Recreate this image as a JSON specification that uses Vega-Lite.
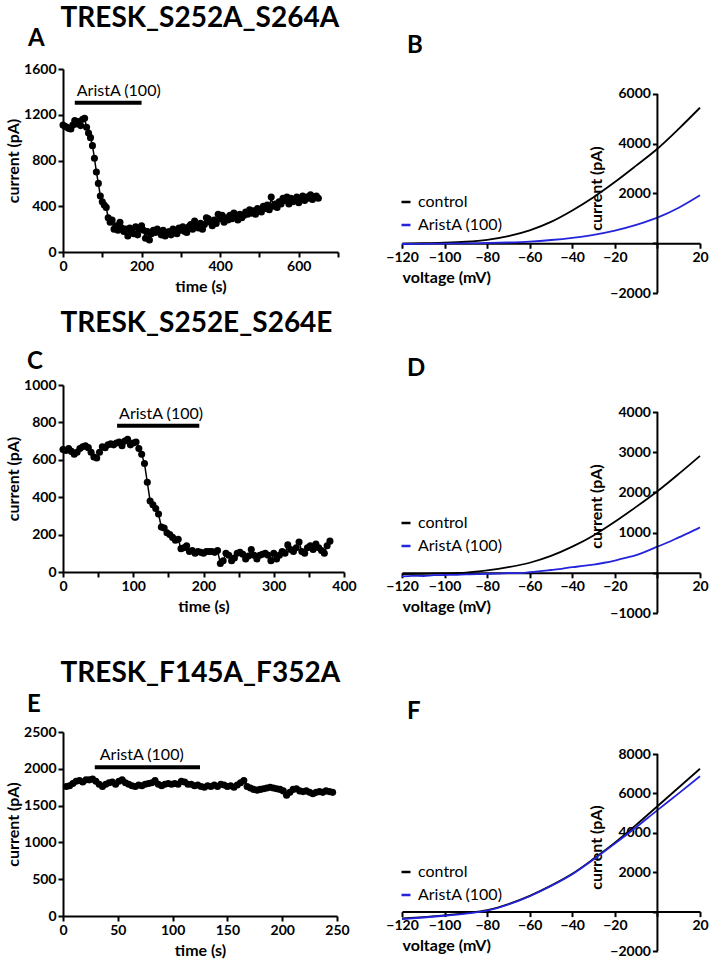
{
  "$schema": "https://vega.github.io/schema/vega-lite/v6.json",
  "background": "white",
  "padding": 5,
  "config": {
    "font": "Lato",
    "view": {"stroke": null},
    "axis": {
      "grid": false,
      "domainColor": "black",
      "domainWidth": 2,
      "tickColor": "black",
      "tickWidth": 2,
      "tickSize": 5,
      "labelFont": "Lato",
      "labelFontSize": 14,
      "labelFontWeight": "bold",
      "labelColor": "black",
      "labelFlush": false,
      "labelOverlap": false,
      "labelPadding": 2,
      "titleFont": "Lato",
      "titleFontSize": 16,
      "titleFontWeight": "bold",
      "titleColor": "black",
      "titlePadding": 5
    },
    "title": {"font": "Lato", "fontWeight": "bold", "color": "black"},
    "legend": {"labelFont": "Lato", "labelFontSize": 16, "labelColor": "black"}
  },
  "spacing": 10,
  "resolve": {"scale": {"color": "independent"}, "legend": {"color": "independent"}},
  "vconcat": [
    {
      "title": {"text": "TRESK_S252A_S264A", "anchor": "start", "dx": 55, "fontSize": 28, "offset": -6},
      "spacing": 46,
      "resolve": {"scale": {"color": "independent"}, "legend": {"color": "independent"}},
      "hconcat": [
        {
          "title": {"text": "A", "anchor": "start", "frame": "group", "dx": -35, "fontSize": 24, "offset": 11},
          "width": 275,
          "height": 183,
          "data": {"values": [
            {"t":0,"I":1110},{"t":5,"I":1100},{"t":10,"I":1090},{"t":15,"I":1080},{"t":20,"I":1075},{"t":25,"I":1110},{"t":30,"I":1150},{"t":35,"I":1120},{"t":40,"I":1140},{"t":45,"I":1105},{"t":50,"I":1160},{"t":55,"I":1170},{"t":60,"I":1090},{"t":65,"I":1040},{"t":70,"I":1000},{"t":75,"I":930},{"t":80,"I":820},{"t":85,"I":700},{"t":90,"I":600},{"t":95,"I":490},{"t":100,"I":440},{"t":105,"I":410},{"t":110,"I":390},{"t":115,"I":300},{"t":120,"I":260},{"t":125,"I":280},{"t":130,"I":200},{"t":135,"I":230},{"t":140,"I":190},{"t":145,"I":260},{"t":150,"I":210},{"t":155,"I":180},{"t":160,"I":200},{"t":165,"I":140},{"t":170,"I":210},{"t":175,"I":180},{"t":180,"I":160},{"t":185,"I":220},{"t":190,"I":150},{"t":195,"I":200},{"t":200,"I":230},{"t":205,"I":190},{"t":210,"I":120},{"t":215,"I":180},{"t":220,"I":105},{"t":225,"I":160},{"t":230,"I":190},{"t":235,"I":170},{"t":240,"I":200},{"t":245,"I":180},{"t":250,"I":150},{"t":255,"I":190},{"t":260,"I":140},{"t":265,"I":160},{"t":270,"I":180},{"t":275,"I":150},{"t":280,"I":200},{"t":285,"I":170},{"t":290,"I":160},{"t":295,"I":210},{"t":300,"I":190},{"t":305,"I":220},{"t":310,"I":180},{"t":315,"I":170},{"t":320,"I":220},{"t":325,"I":240},{"t":330,"I":200},{"t":335,"I":270},{"t":340,"I":230},{"t":345,"I":210},{"t":350,"I":250},{"t":355,"I":200},{"t":360,"I":240},{"t":365,"I":300},{"t":370,"I":290},{"t":375,"I":260},{"t":380,"I":230},{"t":385,"I":280},{"t":390,"I":250},{"t":395,"I":330},{"t":400,"I":290},{"t":405,"I":320},{"t":410,"I":260},{"t":415,"I":300},{"t":420,"I":280},{"t":425,"I":320},{"t":430,"I":290},{"t":435,"I":340},{"t":440,"I":310},{"t":445,"I":280},{"t":450,"I":330},{"t":455,"I":300},{"t":460,"I":320},{"t":465,"I":350},{"t":470,"I":330},{"t":475,"I":370},{"t":480,"I":340},{"t":485,"I":360},{"t":490,"I":330},{"t":495,"I":380},{"t":500,"I":370},{"t":505,"I":350},{"t":510,"I":400},{"t":515,"I":380},{"t":520,"I":410},{"t":525,"I":370},{"t":530,"I":480},{"t":535,"I":400},{"t":540,"I":420},{"t":545,"I":390},{"t":550,"I":440},{"t":555,"I":420},{"t":560,"I":470},{"t":565,"I":450},{"t":570,"I":480},{"t":575,"I":420},{"t":580,"I":470},{"t":585,"I":440},{"t":590,"I":460},{"t":595,"I":480},{"t":600,"I":430},{"t":605,"I":470},{"t":610,"I":490},{"t":615,"I":450},{"t":620,"I":480},{"t":625,"I":470},{"t":630,"I":500},{"t":635,"I":460},{"t":640,"I":480},{"t":645,"I":490},{"t":650,"I":470}
          ]},
          "layer": [
            {
              "mark": {"type": "line", "color": "black", "strokeWidth": 1.5},
              "encoding": {
                "x": {"field": "t", "type": "quantitative", "scale": {"domain": [0, 700], "nice": false},
                  "axis": {"title": "time (s)", "format": "d", "tickCount": 30, "values": [0,100,200,300,400,500,600,700], "labelExpr": "datum.value % 200 == 0 && datum.value < 700 ? datum.label : ''"}},
                "y": {"field": "I", "type": "quantitative", "scale": {"domain": [0, 1600], "nice": false},
                  "axis": {"title": "current (pA)", "titlePadding": 2, "format": "d", "tickCount": 30, "values": [0,400,800,1200,1600]}}
              }
            },
            {
              "mark": {"type": "point", "filled": true, "size": 50, "color": "black", "opacity": 1},
              "encoding": {
                "x": {"field": "t", "type": "quantitative"},
                "y": {"field": "I", "type": "quantitative"}
              }
            },
            {
              "data": {"values": [{"t": 30, "t2": 200, "I": 1305, "label": "AristA (100)"}]},
              "layer": [
                {"mark": {"type": "rule", "strokeWidth": 4, "color": "black"},
                 "encoding": {"x": {"field": "t", "type": "quantitative"}, "x2": {"field": "t2"}, "y": {"field": "I", "type": "quantitative"}}},
                {"mark": {"type": "text", "align": "left", "baseline": "alphabetic", "dx": 2, "dy": -7, "fontSize": 16, "font": "Lato", "color": "black"},
                 "encoding": {"x": {"field": "t", "type": "quantitative"}, "y": {"field": "I", "type": "quantitative"}, "text": {"field": "label"}}}
              ]
            }
          ]
        },
        {
          "title": {"text": "B", "anchor": "start", "frame": "group", "dx": 5, "fontSize": 24, "offset": 11},
          "width": 298,
          "height": 224,
          "layer": [
            {
              "data": {"values": [
                {"V":-120,"I":-20,"s":"control"},{"V":-110,"I":0,"s":"control"},{"V":-100,"I":20,"s":"control"},{"V":-90,"I":60,"s":"control"},{"V":-80,"I":140,"s":"control"},{"V":-70,"I":290,"s":"control"},{"V":-60,"I":520,"s":"control"},{"V":-50,"I":860,"s":"control"},{"V":-40,"I":1320,"s":"control"},{"V":-30,"I":1850,"s":"control"},{"V":-20,"I":2460,"s":"control"},{"V":-10,"I":3120,"s":"control"},{"V":0,"I":3800,"s":"control"},{"V":10,"I":4600,"s":"control"},{"V":20,"I":5450,"s":"control"},
                {"V":-120,"I":-30,"s":"AristA (100)"},{"V":-110,"I":-25,"s":"AristA (100)"},{"V":-100,"I":-15,"s":"AristA (100)"},{"V":-90,"I":-5,"s":"AristA (100)"},{"V":-80,"I":10,"s":"AristA (100)"},{"V":-70,"I":30,"s":"AristA (100)"},{"V":-60,"I":65,"s":"AristA (100)"},{"V":-50,"I":130,"s":"AristA (100)"},{"V":-40,"I":220,"s":"AristA (100)"},{"V":-30,"I":340,"s":"AristA (100)"},{"V":-20,"I":510,"s":"AristA (100)"},{"V":-10,"I":740,"s":"AristA (100)"},{"V":0,"I":1030,"s":"AristA (100)"},{"V":10,"I":1430,"s":"AristA (100)"},{"V":20,"I":1930,"s":"AristA (100)"}
              ]},
              "mark": {"type": "line", "strokeWidth": 1.8, "interpolate": "monotone"},
              "encoding": {
                "x": {"field": "V", "type": "quantitative", "scale": {"domain": [-120, 20], "nice": false},
                  "axis": {"title": "voltage (mV)", "format": "d", "tickCount": 30, "titleAnchor": "start", "offset": -49.75, "values": [-120,-100,-80,-60,-40,-20,0,20], "labelExpr": "datum.value == 0 ? '' : datum.label"}},
                "y": {"field": "I", "type": "quantitative", "scale": {"domain": [-2000, 7005], "nice": false},
                  "axis": {"title": "current (pA)", "titleY": 119, "domain": false, "format": "d", "tickCount": 30, "offset": -255.4, "values": [-2000,0,2000,4000,6000], "labelExpr": "datum.value == 0 ? '' : datum.label"}},
                "color": {"field": "s", "type": "nominal", "scale": {"domain": ["control", "AristA (100)"], "range": ["black", "#2424dc"]},
                  "legend": {"orient": "none", "legendX": -4, "legendY": 125, "title": null, "symbolType": "stroke", "symbolStrokeWidth": 2.5, "symbolSize": 81, "rowPadding": 7, "labelOffset": 4}}
              }
            },
            {
              "data": {"values": [{"V": 0, "I": -2000, "I2": 6000}]},
              "mark": {"type": "rule", "strokeWidth": 2, "color": "black"},
              "encoding": {"x": {"field": "V", "type": "quantitative"}, "y": {"field": "I", "type": "quantitative"}, "y2": {"field": "I2"}}
            }
          ]
        }
      ]
    },
    {
      "spacing": 40,
      "resolve": {"scale": {"color": "independent"}, "legend": {"color": "independent"}},
      "vconcat": [
        {
          "title": {"text": "TRESK_S252E_S264E", "anchor": "start", "dx": 55, "fontSize": 28, "offset": 12},
          "spacing": 28,
          "resolve": {"scale": {"color": "independent"}, "legend": {"color": "independent"}},
          "hconcat": [
            {
              "title": {"text": "C", "anchor": "start", "frame": "group", "dx": -36, "fontSize": 24, "offset": 4},
              "width": 281,
              "height": 187,
              "data": {"values": [
                {"t":0,"I":655},{"t":4,"I":650},{"t":8,"I":660},{"t":12,"I":645},{"t":16,"I":630},{"t":20,"I":640},{"t":24,"I":660},{"t":28,"I":670},{"t":32,"I":675},{"t":36,"I":665},{"t":40,"I":640},{"t":44,"I":615},{"t":48,"I":610},{"t":52,"I":640},{"t":56,"I":670},{"t":60,"I":665},{"t":64,"I":680},{"t":68,"I":685},{"t":72,"I":680},{"t":76,"I":690},{"t":80,"I":695},{"t":84,"I":675},{"t":88,"I":700},{"t":92,"I":710},{"t":96,"I":680},{"t":100,"I":690},{"t":104,"I":695},{"t":108,"I":660},{"t":112,"I":630},{"t":116,"I":580},{"t":120,"I":480},{"t":124,"I":380},{"t":128,"I":360},{"t":132,"I":340},{"t":136,"I":310},{"t":140,"I":240},{"t":144,"I":235},{"t":148,"I":210},{"t":152,"I":200},{"t":156,"I":185},{"t":160,"I":170},{"t":164,"I":175},{"t":168,"I":125},{"t":172,"I":130},{"t":176,"I":140},{"t":180,"I":110},{"t":184,"I":115},{"t":188,"I":100},{"t":192,"I":110},{"t":196,"I":105},{"t":200,"I":100},{"t":204,"I":110},{"t":208,"I":110},{"t":212,"I":110},{"t":216,"I":105},{"t":220,"I":115},{"t":224,"I":45},{"t":228,"I":60},{"t":232,"I":100},{"t":236,"I":90},{"t":240,"I":60},{"t":244,"I":75},{"t":248,"I":100},{"t":252,"I":105},{"t":256,"I":95},{"t":260,"I":70},{"t":264,"I":85},{"t":268,"I":120},{"t":272,"I":90},{"t":276,"I":70},{"t":280,"I":90},{"t":284,"I":95},{"t":288,"I":100},{"t":292,"I":90},{"t":296,"I":60},{"t":300,"I":100},{"t":304,"I":70},{"t":308,"I":90},{"t":312,"I":110},{"t":316,"I":100},{"t":320,"I":145},{"t":324,"I":120},{"t":328,"I":110},{"t":332,"I":130},{"t":336,"I":160},{"t":340,"I":110},{"t":344,"I":100},{"t":348,"I":130},{"t":352,"I":140},{"t":356,"I":120},{"t":360,"I":150},{"t":364,"I":130},{"t":368,"I":115},{"t":372,"I":100},{"t":376,"I":140},{"t":380,"I":165}
              ]},
              "layer": [
                {
                  "mark": {"type": "line", "color": "black", "strokeWidth": 1.5},
                  "encoding": {
                    "x": {"field": "t", "type": "quantitative", "scale": {"domain": [0, 400], "nice": false},
                      "axis": {"title": "time (s)", "format": "d", "tickCount": 30, "values": [0,50,100,150,200,250,300,350,400], "labelExpr": "datum.value % 100 == 0 ? datum.label : ''"}},
                    "y": {"field": "I", "type": "quantitative", "scale": {"domain": [0, 1000], "nice": false},
                      "axis": {"title": "current (pA)", "titlePadding": 2, "format": "d", "tickCount": 30, "values": [0,200,400,600,800,1000]}}
                  }
                },
                {
                  "mark": {"type": "point", "filled": true, "size": 50, "color": "black", "opacity": 1},
                  "encoding": {
                    "x": {"field": "t", "type": "quantitative"},
                    "y": {"field": "I", "type": "quantitative"}
                  }
                },
                {
                  "data": {"values": [{"t": 77, "t2": 194, "I": 782, "label": "AristA (100)"}]},
                  "layer": [
                    {"mark": {"type": "rule", "strokeWidth": 4, "color": "black"},
                     "encoding": {"x": {"field": "t", "type": "quantitative"}, "x2": {"field": "t2"}, "y": {"field": "I", "type": "quantitative"}}},
                    {"mark": {"type": "text", "align": "left", "baseline": "alphabetic", "dx": 2, "dy": -7, "fontSize": 16, "font": "Lato", "color": "black"},
                     "encoding": {"x": {"field": "t", "type": "quantitative"}, "y": {"field": "I", "type": "quantitative"}, "text": {"field": "label"}}}
                  ]
                }
              ]
            },
            {
              "title": {"text": "D", "anchor": "start", "frame": "group", "dx": 5, "fontSize": 24, "offset": 4},
              "width": 298,
              "height": 228,
              "layer": [
                {
                  "data": {"values": [
                    {"V":-120,"I":-30,"s":"control"},{"V":-110,"I":-25,"s":"control"},{"V":-100,"I":-15,"s":"control"},{"V":-90,"I":5,"s":"control"},{"V":-80,"I":60,"s":"control"},{"V":-70,"I":140,"s":"control"},{"V":-60,"I":250,"s":"control"},{"V":-50,"I":420,"s":"control"},{"V":-40,"I":650,"s":"control"},{"V":-30,"I":930,"s":"control"},{"V":-20,"I":1270,"s":"control"},{"V":-10,"I":1640,"s":"control"},{"V":0,"I":2030,"s":"control"},{"V":10,"I":2460,"s":"control"},{"V":20,"I":2910,"s":"control"},
                    {"V":-120,"I":-90,"s":"AristA (100)"},{"V":-115,"I":-75,"s":"AristA (100)"},{"V":-110,"I":-80,"s":"AristA (100)"},{"V":-105,"I":-60,"s":"AristA (100)"},{"V":-100,"I":-55,"s":"AristA (100)"},{"V":-95,"I":-50,"s":"AristA (100)"},{"V":-90,"I":-40,"s":"AristA (100)"},{"V":-85,"I":-35,"s":"AristA (100)"},{"V":-80,"I":-25,"s":"AristA (100)"},{"V":-75,"I":-20,"s":"AristA (100)"},{"V":-70,"I":-5,"s":"AristA (100)"},{"V":-65,"I":-10,"s":"AristA (100)"},{"V":-60,"I":15,"s":"AristA (100)"},{"V":-55,"I":40,"s":"AristA (100)"},{"V":-50,"I":70,"s":"AristA (100)"},{"V":-45,"I":100,"s":"AristA (100)"},{"V":-40,"I":140,"s":"AristA (100)"},{"V":-35,"I":170,"s":"AristA (100)"},{"V":-30,"I":205,"s":"AristA (100)"},{"V":-25,"I":250,"s":"AristA (100)"},{"V":-20,"I":305,"s":"AristA (100)"},{"V":-15,"I":370,"s":"AristA (100)"},{"V":-10,"I":440,"s":"AristA (100)"},{"V":-5,"I":540,"s":"AristA (100)"},{"V":0,"I":650,"s":"AristA (100)"},{"V":5,"I":760,"s":"AristA (100)"},{"V":10,"I":880,"s":"AristA (100)"},{"V":15,"I":1000,"s":"AristA (100)"},{"V":20,"I":1130,"s":"AristA (100)"}
                  ]},
                  "mark": {"type": "line", "strokeWidth": 1.8, "interpolate": "monotone"},
                  "encoding": {
                    "x": {"field": "V", "type": "quantitative", "scale": {"domain": [-120, 20], "nice": false},
                      "axis": {"title": "voltage (mV)", "format": "d", "tickCount": 30, "titleAnchor": "start", "offset": -40.2, "values": [-120,-100,-80,-60,-40,-20,0,20], "labelExpr": "datum.value == 0 ? '' : datum.label"}},
                    "y": {"field": "I", "type": "quantitative", "scale": {"domain": [-1000, 4672], "nice": false},
                      "axis": {"title": "current (pA)", "titleY": 121, "domain": false, "format": "d", "tickCount": 30, "offset": -255.4, "values": [-1000,0,1000,2000,3000,4000], "labelExpr": "datum.value == 0 ? '' : datum.label"}},
                    "color": {"field": "s", "type": "nominal", "scale": {"domain": ["control", "AristA (100)"], "range": ["black", "#2424dc"]},
                      "legend": {"orient": "none", "legendX": -4, "legendY": 130, "title": null, "symbolType": "stroke", "symbolStrokeWidth": 2.5, "symbolSize": 81, "rowPadding": 7, "labelOffset": 4}}
                  }
                },
                {
                  "data": {"values": [{"V": 0, "I": -1000, "I2": 4000}]},
                  "mark": {"type": "rule", "strokeWidth": 2, "color": "black"},
                  "encoding": {"x": {"field": "V", "type": "quantitative"}, "y": {"field": "I", "type": "quantitative"}, "y2": {"field": "I2"}}
                }
              ]
            }
          ]
        },
        {
          "title": {"text": "TRESK_F145A_F352A", "anchor": "start", "dx": 55, "fontSize": 28, "offset": 5},
          "spacing": 35,
          "resolve": {"scale": {"color": "independent"}, "legend": {"color": "independent"}},
          "hconcat": [
            {
              "title": {"text": "E", "anchor": "start", "frame": "group", "dx": -36, "fontSize": 24, "offset": 8},
              "width": 274,
              "height": 184,
              "data": {"values": [
                {"t":3,"I":1760},{"t":6,"I":1770},{"t":9,"I":1800},{"t":12,"I":1830},{"t":15,"I":1840},{"t":18,"I":1820},{"t":21,"I":1850},{"t":24,"I":1850},{"t":27,"I":1860},{"t":30,"I":1830},{"t":33,"I":1790},{"t":36,"I":1760},{"t":39,"I":1790},{"t":42,"I":1810},{"t":45,"I":1820},{"t":48,"I":1790},{"t":51,"I":1830},{"t":54,"I":1850},{"t":57,"I":1810},{"t":60,"I":1790},{"t":63,"I":1770},{"t":66,"I":1760},{"t":69,"I":1780},{"t":72,"I":1770},{"t":75,"I":1790},{"t":78,"I":1800},{"t":81,"I":1810},{"t":84,"I":1840},{"t":87,"I":1790},{"t":90,"I":1770},{"t":93,"I":1790},{"t":96,"I":1800},{"t":99,"I":1790},{"t":102,"I":1800},{"t":105,"I":1790},{"t":108,"I":1830},{"t":111,"I":1820},{"t":114,"I":1790},{"t":117,"I":1790},{"t":120,"I":1770},{"t":123,"I":1780},{"t":126,"I":1760},{"t":129,"I":1750},{"t":132,"I":1770},{"t":135,"I":1760},{"t":138,"I":1780},{"t":141,"I":1760},{"t":144,"I":1790},{"t":147,"I":1780},{"t":150,"I":1760},{"t":153,"I":1770},{"t":156,"I":1750},{"t":159,"I":1780},{"t":162,"I":1810},{"t":165,"I":1840},{"t":168,"I":1760},{"t":171,"I":1740},{"t":174,"I":1720},{"t":177,"I":1710},{"t":180,"I":1720},{"t":183,"I":1730},{"t":186,"I":1740},{"t":189,"I":1750},{"t":192,"I":1740},{"t":195,"I":1730},{"t":198,"I":1720},{"t":201,"I":1700},{"t":204,"I":1640},{"t":207,"I":1680},{"t":210,"I":1720},{"t":213,"I":1730},{"t":216,"I":1700},{"t":219,"I":1690},{"t":222,"I":1700},{"t":225,"I":1680},{"t":228,"I":1660},{"t":231,"I":1680},{"t":234,"I":1690},{"t":237,"I":1680},{"t":240,"I":1700},{"t":243,"I":1690},{"t":246,"I":1680}
              ]},
              "layer": [
                {
                  "mark": {"type": "line", "color": "black", "strokeWidth": 1.5},
                  "encoding": {
                    "x": {"field": "t", "type": "quantitative", "scale": {"domain": [0, 250], "nice": false},
                      "axis": {"title": "time (s)", "format": "d", "tickCount": 30, "values": [0,50,100,150,200,250]}},
                    "y": {"field": "I", "type": "quantitative", "scale": {"domain": [0, 2500], "nice": false},
                      "axis": {"title": "current (pA)", "titlePadding": 2, "format": "d", "tickCount": 30, "values": [0,500,1000,1500,2000,2500]}}
                  }
                },
                {
                  "mark": {"type": "point", "filled": true, "size": 50, "color": "black", "opacity": 1},
                  "encoding": {
                    "x": {"field": "t", "type": "quantitative"},
                    "y": {"field": "I", "type": "quantitative"}
                  }
                },
                {
                  "data": {"values": [{"t": 29, "t2": 125, "I": 2020, "label": "AristA (100)"}]},
                  "layer": [
                    {"mark": {"type": "rule", "strokeWidth": 4, "color": "black"},
                     "encoding": {"x": {"field": "t", "type": "quantitative"}, "x2": {"field": "t2"}, "y": {"field": "I", "type": "quantitative"}}},
                    {"mark": {"type": "text", "align": "left", "baseline": "alphabetic", "dx": 5, "dy": -7, "fontSize": 16, "font": "Lato", "color": "black"},
                     "encoding": {"x": {"field": "t", "type": "quantitative"}, "y": {"field": "I", "type": "quantitative"}, "text": {"field": "label"}}}
                  ]
                }
              ]
            },
            {
              "title": {"text": "F", "anchor": "start", "frame": "group", "dx": 5, "fontSize": 24, "offset": 8},
              "width": 298,
              "height": 219,
              "layer": [
                {
                  "data": {"values": [
                    {"V":-120,"I":-350,"s":"control"},{"V":-110,"I":-280,"s":"control"},{"V":-100,"I":-190,"s":"control"},{"V":-90,"I":-80,"s":"control"},{"V":-80,"I":70,"s":"control"},{"V":-70,"I":380,"s":"control"},{"V":-60,"I":800,"s":"control"},{"V":-50,"I":1320,"s":"control"},{"V":-40,"I":1920,"s":"control"},{"V":-30,"I":2680,"s":"control"},{"V":-20,"I":3500,"s":"control"},{"V":-10,"I":4400,"s":"control"},{"V":0,"I":5350,"s":"control"},{"V":10,"I":6300,"s":"control"},{"V":20,"I":7250,"s":"control"},
                    {"V":-120,"I":-380,"s":"AristA (100)"},{"V":-110,"I":-300,"s":"AristA (100)"},{"V":-100,"I":-210,"s":"AristA (100)"},{"V":-90,"I":-100,"s":"AristA (100)"},{"V":-80,"I":50,"s":"AristA (100)"},{"V":-70,"I":360,"s":"AristA (100)"},{"V":-60,"I":780,"s":"AristA (100)"},{"V":-50,"I":1300,"s":"AristA (100)"},{"V":-40,"I":1900,"s":"AristA (100)"},{"V":-30,"I":2650,"s":"AristA (100)"},{"V":-20,"I":3450,"s":"AristA (100)"},{"V":-10,"I":4280,"s":"AristA (100)"},{"V":0,"I":5150,"s":"AristA (100)"},{"V":10,"I":6000,"s":"AristA (100)"},{"V":20,"I":6870,"s":"AristA (100)"}
                  ]},
                  "mark": {"type": "line", "strokeWidth": 1.8, "interpolate": "monotone"},
                  "encoding": {
                    "x": {"field": "V", "type": "quantitative", "scale": {"domain": [-120, 20], "nice": false},
                      "axis": {"title": "voltage (mV)", "format": "d", "tickCount": 30, "titleAnchor": "start", "offset": -39.4, "values": [-120,-100,-80,-60,-40,-20,0,20], "labelExpr": "datum.value == 0 ? '' : datum.label"}},
                    "y": {"field": "I", "type": "quantitative", "scale": {"domain": [-2000, 9117], "nice": false},
                      "axis": {"title": "current (pA)", "titleY": 115, "domain": false, "format": "d", "tickCount": 30, "offset": -255.4, "values": [-2000,0,2000,4000,6000,8000], "labelExpr": "datum.value == 0 ? '' : datum.label"}},
                    "color": {"field": "s", "type": "nominal", "scale": {"domain": ["control", "AristA (100)"], "range": ["black", "#2424dc"]},
                      "legend": {"orient": "none", "legendX": -4, "legendY": 132, "title": null, "symbolType": "stroke", "symbolStrokeWidth": 2.5, "symbolSize": 81, "rowPadding": 7, "labelOffset": 4}}
                  }
                },
                {
                  "data": {"values": [{"V": 0, "I": -2000, "I2": 8000}]},
                  "mark": {"type": "rule", "strokeWidth": 2, "color": "black"},
                  "encoding": {"x": {"field": "V", "type": "quantitative"}, "y": {"field": "I", "type": "quantitative"}, "y2": {"field": "I2"}}
                }
              ]
            }
          ]
        }
      ]
    }
  ]
}
